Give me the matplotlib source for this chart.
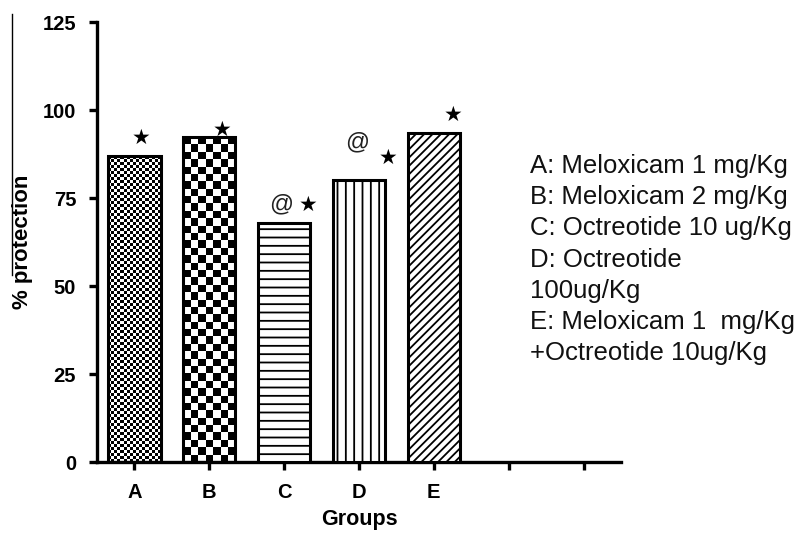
import numpy as np
import matplotlib
matplotlib.use('Agg')
import matplotlib.pyplot as plt
from matplotlib.lines import Line2D

# Group data
groups = ['A', 'B', 'C', 'D', 'E']
protection = [86.9, 92.3, 67.9, 80.0, 93.5]
marks = [['★'], ['★'], ['@', '★'], ['@', '★'], ['★']]
empty_ticks = ['', '']

legend_lines = ['A: Meloxicam 1 mg/Kg',
                'B: Meloxicam 2 mg/Kg',
                'C: Octreotide 10 ug/Kg',
                'D: Octreotide',
                '100ug/Kg',
                'E: Meloxicam 1  mg/Kg',
                '+Octreotide 10ug/Kg']

# Fill style per bar: ('checker', cell px) or ('hatch', pattern)
fills = [('checker', 3.0), ('checker', 7.4), ('hatch', '--'), ('hatch', '||'), ('hatch', '////')]

# Offsets (points) of each mark from the top centre of its bar
mark_offsets = [[(5, 13)], [(9, 5)], [(-2, 13), (17, 13)], [(-1, 27), (21, 16)], [(14, 13)]]

W, H = 809, 534
fig = plt.figure(figsize=(W / 100, H / 100), dpi=100)
ax = fig.add_axes([97 / W, 1 - 462 / H, (621 - 97) / W, (462 - 22) / H])

plt.rcParams['hatch.linewidth'] = 1.3
bold = dict(family='Liberation Sans', weight='bold')

x = np.arange(len(groups))
bars = ax.bar(x, protection, width=0.7, facecolor='white', edgecolor='black',
              linewidth=2.2, zorder=3)

ax.set_xlim(-0.5, 6.5)
ax.set_ylim(0, 125)

for bar, (kind, val) in zip(bars, fills):
    if kind == 'hatch':
        bar.set_hatch(val)
        continue
    # checkerboard drawn as an image clipped to the bar
    bar.set_facecolor('none')
    ext = bar.get_window_extent()
    nx = max(1, int(round(ext.width / val)))
    ny = max(1, int(round(ext.height / val)))
    board = (np.add.outer(np.arange(ny), np.arange(nx)) % 2).astype(float)
    x0 = bar.get_x()
    im = ax.imshow(board, cmap='gray_r', vmin=0, vmax=1, interpolation='nearest',
                   extent=(x0, x0 + bar.get_width(), 0, bar.get_height()),
                   aspect='auto', zorder=2, origin='lower')
    im.set_clip_path(bar)

ax.set_xlim(-0.5, 6.5)
ax.set_ylim(0, 125)

# significance marks
for bar, ms, offs in zip(bars, marks, mark_offsets):
    cx = bar.get_x() + bar.get_width() / 2
    top = bar.get_height()
    for m, (dx, dy) in zip(ms, offs):
        if m == '★':
            ax.annotate(m, (cx, top), xytext=(dx, dy), textcoords='offset points',
                        ha='center', va='center', fontsize=15, family='DejaVu Sans')
        else:
            ax.annotate(m, (cx, top), xytext=(dx, dy), textcoords='offset points',
                        ha='center', va='center', fontsize=17, family='Liberation Sans',
                        color='#222222')

for side in ['top', 'right']:
    ax.spines[side].set_visible(False)
for side in ['left', 'bottom']:
    ax.spines[side].set_linewidth(2.4)

ax.set_xticks(np.arange(len(groups) + len(empty_ticks)))
ax.set_xticklabels(groups + empty_ticks, **bold, fontsize=14.5)
ax.set_yticks([0, 25, 50, 75, 100, 125])
ax.set_yticklabels(['0', '25', '50', '75', '100', '125'], **bold, fontsize=14.5)
ax.tick_params(axis='both', direction='out', length=6, width=2.4, pad=9)

ax.set_xlabel('Groups', **bold, fontsize=15.5, labelpad=5)
ax.set_ylabel('% protection', **bold, fontsize=16)
ax.yaxis.set_label_coords(-0.122, 0.5)

# group descriptions on the right
for i, line in enumerate(legend_lines):
    fig.text(530 / W, 1 - (166 + 31.2 * i) / H, line, family='Liberation Sans',
             fontsize=18.5, va='center', ha='left', color='#111111')

fig.add_artist(Line2D([12 / W, 12 / W], [1 - 14 / H, 1 - 275 / H], color='black', lw=1))

fig.savefig('out.png', dpi=100)
